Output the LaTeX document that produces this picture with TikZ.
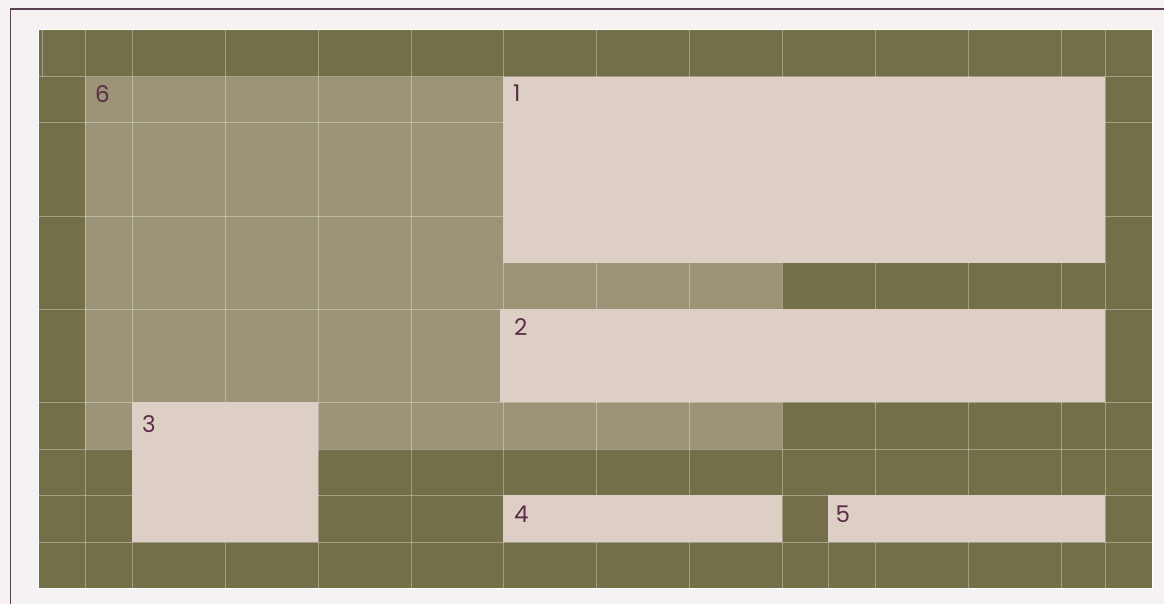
\documentclass[tikz,border=0pt]{standalone}
\usepackage{fontspec}
\setmainfont{Poppins}
\definecolor{bgc}{HTML}{F5F2F1}
\definecolor{darkol}{HTML}{737049}
\definecolor{lightol}{HTML}{9B9476}
\definecolor{beige}{HTML}{DDCFC6}
\definecolor{labc}{HTML}{5B2C48}
\definecolor{framec}{HTML}{5C4254}
\tikzset{
  itembox/.style={fill=beige, draw=none},
  gridline/.style={draw=white, draw opacity=0.33, line width=1pt},
  lab/.style={anchor=base west, inner sep=0pt, text=labc, font=\fontsize{23}{27}\selectfont},
}
\begin{document}
\begin{tikzpicture}[x=1pt,y=-1pt]
\useasboundingbox (0,0) rectangle (1164,604);
\fill[bgc] (0,0) rectangle (1164,604);
% outer frame (only top and left edges visible)
\draw[framec, line width=1.6pt] (10.5,610) -- (10.5,9) -- (1170,9);
% grid container
\draw[white, line width=1pt] (38.5,29.5) rectangle (1152.5,588.5);
\fill[darkol] (39,30) rectangle (1152,588);
% item 6 (spanning area)
\fill[lightol] (85,77) rectangle (782,449);
% grid lines
\foreach \gx in {85,132,225,318,411,503,596,689,782,875,968,1061,1105}
  \draw[gridline] (\gx,30) -- (\gx,588);
\foreach \gy in {77,123,216,309,402,449,495,542}
  \draw[gridline] (39,\gy) -- (1152,\gy);
\draw[gridline] (828,542) -- (828,588);
\draw[gridline] (42,30) -- (42,77);
% items
\fill[itembox] (503,77) rectangle (1105,263);
\fill[itembox] (500,309) rectangle (1105,402);
\fill[itembox] (132,402) rectangle (318,542);
\fill[itembox] (503,495) rectangle (782,542);
\fill[itembox] (828,495) rectangle (1105,542);
% labels
\node[lab] (l6) at (95,103) {6};
\node[lab] (l1) at (513,102) {1};
\node[lab] (l2) at (514,335.5) {2};
\node[lab] (l3) at (142,432) {3};
\node[lab] (l4) at (514,522.5) {4};
\node[lab] (l5) at (835.5,522.5) {5};
\end{tikzpicture}
\end{document}
